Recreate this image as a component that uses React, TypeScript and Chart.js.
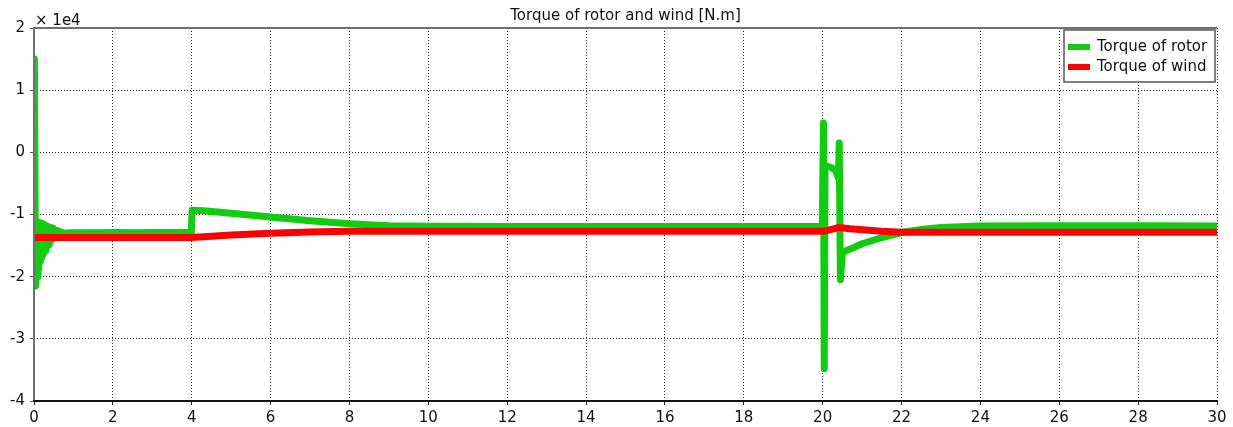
import React, { useEffect, useRef } from "react";
import { Chart, registerables } from "chart.js";

Chart.register(...registerables);

// ---- data (torque in N.m, time in s) ----
const rotorTime = [
  0, 0.01, 0.04, 0.06, 0.08, 0.1, 0.12, 0.14, 0.16, 0.18, 0.2, 0.22, 0.24, 0.26, 0.28, 0.3,
  0.32, 0.34, 0.36, 0.38, 0.4, 0.42, 0.44, 0.46, 0.48, 0.5, 0.55, 0.6, 0.7, 0.8, 0.9, 1.0,
  1.5, 2.0, 2.5, 3.0, 3.5, 3.99,
  4.01, 4.3, 5.0, 6.0, 7.0, 8.0, 9.0, 10.0, 12.0, 14.0, 16.0, 18.0, 19.99,
  20.02, 20.04, 20.06, 20.2, 20.33, 20.4, 20.42, 20.45, 20.5, 20.6, 20.8, 21.0, 21.5, 22.0,
  22.5, 23.0, 24.0, 26.0, 28.0, 30.0,
];
const rotorTorque = [
  0, 15000, -21500, -11300, -20000, -11200, -18800, -11300, -17600, -11400, -16900, -11500,
  -16300, -11600, -15800, -11800, -15300, -11900, -14900, -12000, -14500, -12100, -14200,
  -12200, -13900, -12400, -13700, -12600, -12900, -13000, -12950, -12950,
  -12950, -12900, -12950, -12900, -12900, -12900,
  -9300, -9400, -9800, -10400, -11000, -11500, -11800, -11900, -11950, -11950, -11950, -11950,
  -11950,
  4700, -34800, -2100, -2400, -2900, -4200, 1500, -20500, -16200, -15800, -15300, -14700,
  -13700, -12900, -12400, -12100, -11850, -11800, -11800, -11850,
];
const windTime = [0, 4.0, 5.0, 6.0, 7.0, 8.0, 10.0, 20.0, 20.1, 20.4, 20.7, 21.5, 22.0, 30.0];
const windTorque = [
  -13700, -13700, -13300, -13000, -12800, -12700, -12700, -12700, -12600, -12100, -12300,
  -12700, -12850, -12850,
];

const seriesNames = ["Torque of rotor", "Torque of wind"];
const seriesColors = ["#11cc11", "#ff0000"];
const chartTitle = "Torque of rotor and wind [N.m]";
const yScaleLabel = "× 1e4";
const yScaleFactor = 10000;
const xMin = 0;
const xMax = 30;
const xStep = 2;
const yMin = -40000;
const yMax = 20000;
const yStep = 10000;

const FONT = "'DejaVu Sans', Verdana, sans-serif";

const decorPlugin = {
  id: "decor",
  afterDatasetsDraw(chart: any) {
    const { ctx, chartArea } = chart;
    const { left, right, top, bottom } = chartArea;
    ctx.save();
    // axes lines
    ctx.setLineDash([]);
    ctx.lineWidth = 2;
    ctx.strokeStyle = "#707070";
    ctx.beginPath();
    ctx.moveTo(left, bottom);
    ctx.lineTo(left, top);
    ctx.lineTo(right, top);
    ctx.stroke();
    ctx.strokeStyle = "#111";
    ctx.beginPath();
    ctx.moveTo(left - 1, bottom);
    ctx.lineTo(right, bottom);
    ctx.stroke();

    // title
    ctx.fillStyle = "#111";
    ctx.font = `15px ${FONT}`;
    ctx.textAlign = "center";
    ctx.textBaseline = "alphabetic";
    ctx.fillText(chartTitle, (left + right) / 2, 20);

    // scale factor
    ctx.font = `15px ${FONT}`;
    ctx.textAlign = "left";
    ctx.fillText(yScaleLabel, left + 1, 25);

    // legend
    const bx = 1064, by = 30, bw = 151, bh = 52;
    ctx.fillStyle = "#fff";
    ctx.fillRect(bx, by, bw, bh);
    ctx.lineWidth = 1.5;
    ctx.strokeStyle = "#555";
    ctx.strokeRect(bx, by, bw, bh);
    seriesNames.forEach((name, i) => {
      const cy = 47 + i * 20;
      ctx.lineWidth = 6;
      ctx.strokeStyle = seriesColors[i];
      ctx.beginPath();
      ctx.moveTo(1068, cy);
      ctx.lineTo(1090, cy);
      ctx.stroke();
      ctx.fillStyle = "#111";
      ctx.font = `15px ${FONT}`;
      ctx.textAlign = "left";
      ctx.textBaseline = "middle";
      ctx.fillText(name, 1097, cy);
    });
    ctx.restore();
  },
};

export default function App() {
  const ref = useRef<HTMLCanvasElement>(null);
  useEffect(() => {
    if (!ref.current) return;
    const rotorPts = rotorTime.map((t, i) => ({ x: t, y: rotorTorque[i] }));
    const windPts = windTime.map((t, i) => ({ x: t, y: windTorque[i] }));
    const chart = new Chart(ref.current, {
      type: "line",
      data: {
        datasets: [
          {
            label: seriesNames[1],
            data: windPts,
            borderColor: seriesColors[1],
            borderWidth: 7,
            borderJoinStyle: "round",
            pointRadius: 0,
            tension: 0,
            order: 1,
          },
          {
            label: seriesNames[0],
            data: rotorPts,
            borderColor: seriesColors[0],
            borderWidth: 7,
            borderJoinStyle: "round",
            pointRadius: 0,
            tension: 0,
            order: 2,
          },
        ],
      },
      plugins: [decorPlugin],
      options: {
        animation: false,
        responsive: false,
        maintainAspectRatio: false,
        layout: { padding: { top: 28, right: 16, left: 0, bottom: 0 } },
        plugins: { legend: { display: false }, title: { display: false }, tooltip: { enabled: false } },
        scales: {
          x: {
            type: "linear",
            min: xMin,
            max: xMax,
            afterFit: (s: any) => { s.height = 26; },
            ticks: {
              stepSize: xStep,
              color: "#111",
              padding: 4,
              maxRotation: 0,
              font: { family: FONT, size: 15 },
            },
            grid: { color: "#222", lineWidth: 1, tickLength: 4, tickColor: "#222", tickBorderDash: [] },
            border: { display: false, dash: [1, 2] },
          },
          y: {
            min: yMin,
            max: yMax,
            afterFit: (s: any) => { s.width = 34; },
            ticks: {
              stepSize: yStep,
              color: "#111",
              padding: 5,
              font: { family: FONT, size: 15 },
              callback: (v: any) => String(Number(v) / yScaleFactor),
            },
            grid: { color: "#222", lineWidth: 1, tickLength: 4, tickColor: "#555", tickBorderDash: [] },
            border: { display: false, dash: [1, 2] },
          },
        },
      },
    } as any);
    return () => chart.destroy();
  }, []);
  return (
    <div style={{ position: "absolute", left: 0, top: 0, width: 1233, height: 427, background: "#fff" }}>
      <canvas ref={ref} width={1233} height={427} style={{ width: 1233, height: 427, display: "block" }} />
    </div>
  );
}
